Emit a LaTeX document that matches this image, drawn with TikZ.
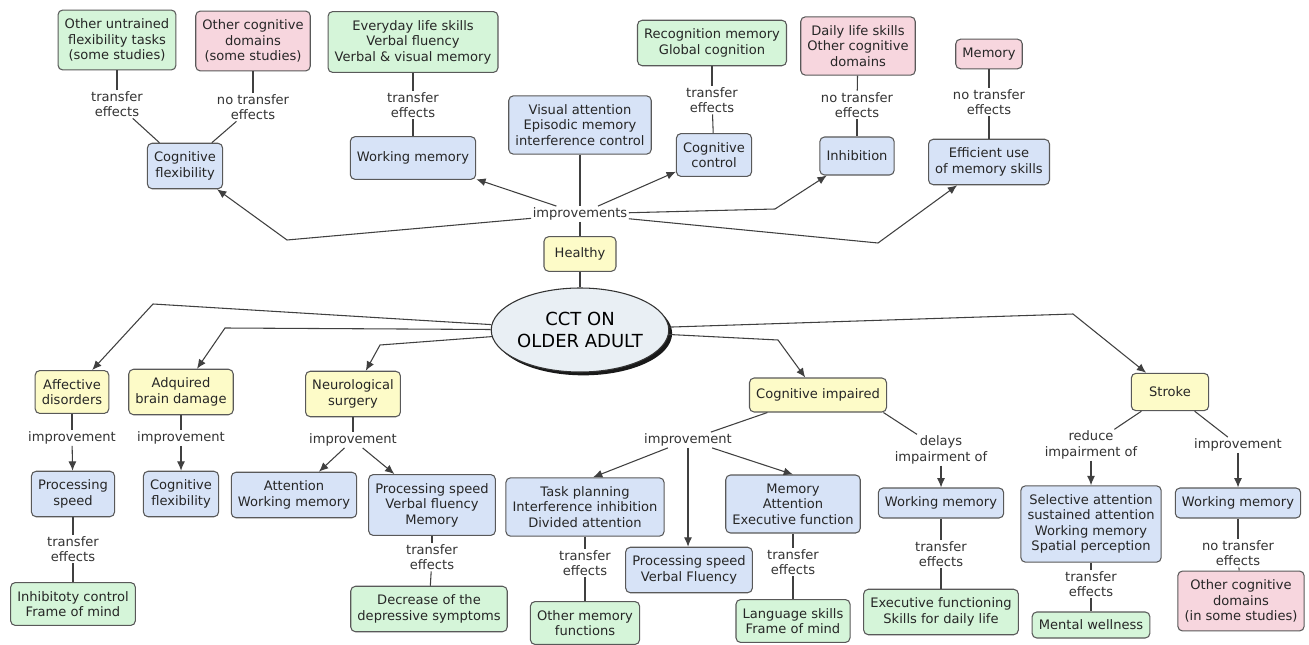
\documentclass[tikz,border=0pt]{standalone}
\usepackage{fontspec}
\setmainfont{DejaVu Sans}
\usetikzlibrary{arrows.meta,shapes.geometric,shadows}
\tikzset{>={Latex[length=7pt,width=6pt]}}

\definecolor{tgreen}{HTML}{D5F5D9}
\definecolor{tpink}{HTML}{F7D6DE}
\definecolor{tblue}{HTML}{D7E3F7}
\definecolor{tyellow}{HTML}{FDFBC8}
\definecolor{tcct}{HTML}{E9EFF4}

\tikzset{
    box/.style={draw=black!65, rounded corners=3.5pt, line width=0.8pt, align=center,
        inner xsep=5pt, inner ysep=6.5pt, text=black!85},
    greenbox/.style={box, fill=tgreen},
    pinkbox/.style={box, fill=tpink},
    bluebox/.style={box, fill=tblue},
    yellowbox/.style={box, fill=tyellow},
    linklabel/.style={fill=white, inner sep=1pt, align=center, text=black!80},
    link/.style={draw=black!75, line width=0.8pt},
    arr/.style={link, ->},
    cct/.style={ellipse, draw=black!80, line width=0.8pt, fill=tcct, align=center,
        minimum width=129pt, minimum height=63pt, inner sep=0pt,
        font=\fontsize{13.5}{17}\selectfont,
        drop shadow={shadow xshift=2.5pt, shadow yshift=-2.5pt, fill=black, opacity=0.9}}
}

\begin{document}
\begin{tikzpicture}[x=0.75pt, y=-0.75pt, every node/.append style={font=\fontsize{9.8}{11.6}\selectfont}]
    \useasboundingbox (0,0) rectangle (1309,645);

    % healthy branch
    \node[greenbox] (untr) at (117,40) {Other untrained\\flexibility tasks\\(some studies)};
    \node[pinkbox] (othdom) at (253,41) {Other cognitive\\domains\\(some studies)};
    \node[greenbox] (every) at (413,42) {Everyday life skills\\Verbal fluency\\Verbal \& visual memory};
    \node[greenbox] (recog) at (712,43) {Recognition memory\\Global cognition};
    \node[pinkbox] (daily) at (858,46) {Daily life skills\\Other cognitive\\domains};
    \node[pinkbox, minimum height=22pt] (mem) at (989,54) {Memory};

    \node[linklabel] (t1) at (117,104) {transfer\\effects};
    \node[linklabel] (t2) at (253,107) {no transfer\\effects};
    \node[linklabel] (t3) at (413,105) {transfer\\effects};
    \node[linklabel] (t4) at (712,100) {transfer\\effects};
    \node[linklabel] (t5) at (857,105) {no transfer\\effects};
    \node[linklabel] (t6) at (989,102) {no transfer\\effects};

    \node[bluebox] (cflex) at (185,166) {Cognitive\\flexibility};
    \node[bluebox, minimum height=32pt] (wm) at (413,158) {Working memory};
    \node[bluebox] (visatt) at (580,125) {Visual attention\\Episodic memory\\interference control};
    \node[bluebox] (cctrl) at (714,155) {Cognitive\\control};
    \node[bluebox, minimum height=28.5pt] (inhib) at (857,156) {Inhibition};
    \node[bluebox] (effuse) at (989,162) {Efficient use\\of memory skills};

    \node[linklabel] (impr) at (580,214) {improvements};
    \node[yellowbox, minimum width=54pt, minimum height=26pt] (healthy) at (580,254) {Healthy};
    \node[cct] (cct) at (580,330) {CCT ON\\OLDER ADULT};

    % groups
    \node[yellowbox] (affect) at (72,392) {Affective\\disorders};
    \node[yellowbox] (abd) at (181,392) {Adquired\\brain damage};
    \node[yellowbox] (neuro) at (353,394) {Neurological\\surgery};
    \node[yellowbox, minimum height=25.5pt] (cimp) at (818,395) {Cognitive impaired};
    \node[yellowbox, minimum width=58pt, minimum height=28pt] (stroke) at (1170,392) {Stroke};

    \node[linklabel] (i1) at (72,438) {improvement};
    \node[linklabel] (i2) at (181,438) {improvement};
    \node[linklabel] (i3) at (353,440) {improvement};
    \node[linklabel] (i4) at (688,440) {improvement};
    \node[linklabel] (dl) at (941,450) {delays\\impairment of};
    \node[linklabel] (rd) at (1091,445) {reduce\\impairment of};
    \node[linklabel] (i5) at (1238,445) {improvement};

    \node[bluebox] (pspeed) at (73,494) {Processing\\speed};
    \node[bluebox] (cflex2) at (181,494) {Cognitive\\flexibility};
    \node[bluebox] (attwm) at (294,495) {Attention\\Working memory};
    \node[bluebox] (psvf) at (432,505) {Processing speed\\Verbal fluency\\Memory};
    \node[bluebox] (task) at (585,507) {Task planning\\Interference inhibition\\Divided attention};
    \node[bluebox] (psvf2) at (689,570) {Processing speed\\Verbal Fluency};
    \node[bluebox] (memexe) at (793,504) {Memory\\Attention\\Executive function};
    \node[bluebox] (wm2) at (941,503) {Working memory};
    \node[bluebox] (selatt) at (1091,524) {Selective attention\\sustained attention\\Working memory\\Spatial perception};
    \node[bluebox] (wm3) at (1238,503) {Working memory};

    \node[linklabel] (b1) at (73,549) {transfer\\effects};
    \node[linklabel] (b2) at (432,557) {transfer\\effects};
    \node[linklabel] (b3) at (585,563) {transfer\\effects};
    \node[linklabel] (b4) at (793,562) {transfer\\effects};
    \node[linklabel] (b5) at (941,554) {transfer\\effects};
    \node[linklabel] (b6) at (1091,584) {transfer\\effects};
    \node[linklabel] (b7) at (1238,553) {no transfer\\effects};

    \node[greenbox] (inhctl) at (73,604) {Inhibitoty control\\Frame of mind};
    \node[greenbox] (decr) at (429,609) {Decrease of the\\depressive symptoms};
    \node[greenbox] (othmem) at (585,623) {Other memory\\functions};
    \node[greenbox] (lang) at (793,621) {Language skills\\Frame of mind};
    \node[greenbox] (exec) at (941,612) {Executive functioning\\Skills for daily life};
    \node[greenbox, minimum height=19.5pt, inner ysep=4pt] (mental) at (1091,625) {Mental wellness};
    \node[pinkbox] (othdom2) at (1241,601) {Other cognitive\\domains\\(in some studies)};

    % bends
    \coordinate (k1) at (153,304);
    \coordinate (k2) at (225,328);
    \coordinate (k3) at (380,345);
    \coordinate (k4) at (778,340);
    \coordinate (k5) at (1073,314);
    \coordinate (k6) at (287,240);
    \coordinate (k7) at (775,209);
    \coordinate (k8) at (878,243);

    % plain links
    \foreach \a/\b in {untr/t1, t1/cflex, othdom/t2, t2/cflex, every/t3, t3/wm, recog/t4, t4/cctrl,
        daily/t5, t5/inhib, mem/t6, t6/effuse, visatt/impr, impr/healthy, healthy/cct,
        affect/i1, abd/i2, neuro/i3, cimp/i4, stroke/rd, stroke/i5,
        pspeed/b1, b1/inhctl, psvf/b2, b2/decr, task/b3, b3/othmem, memexe/b4, b4/lang,
        wm2/b5, b5/exec, selatt/b6, b6/mental, wm3/b7, b7/othdom2}
        \draw[link] (\a) -- (\b);
    \draw[link] (cimp.-15) -- (dl);

    % arrows
    \foreach \a/\b in {i1/pspeed, i2/cflex2, i3/attwm, i3/psvf, dl/wm2, rd/selatt, i5/wm3,
        impr/wm, impr/cctrl}
        \draw[arr] (\a) -- (\b);
    \draw[arr] (i4) -- ([xshift=6pt]task.north);
    \draw[arr] (i4) -- (i4 |- psvf2.north);
    \draw[arr] (i4) -- (memexe.north);

    \draw[arr] (impr) -- (k6) -- (cflex);
    \draw[arr] (impr) -- (k7) -- (inhib);
    \draw[arr] (impr) -- (k8) -- (effuse);

    \draw[arr] (cct) -- (k1) -- (affect);
    \draw[arr] (cct) -- (k2) -- (abd);
    \draw[arr] (cct) -- (k3) -- (neuro);
    \draw[arr] (cct) -- (k4) -- (cimp);
    \draw[arr] (cct) -- (k5) -- (stroke);
\end{tikzpicture}
\end{document}
